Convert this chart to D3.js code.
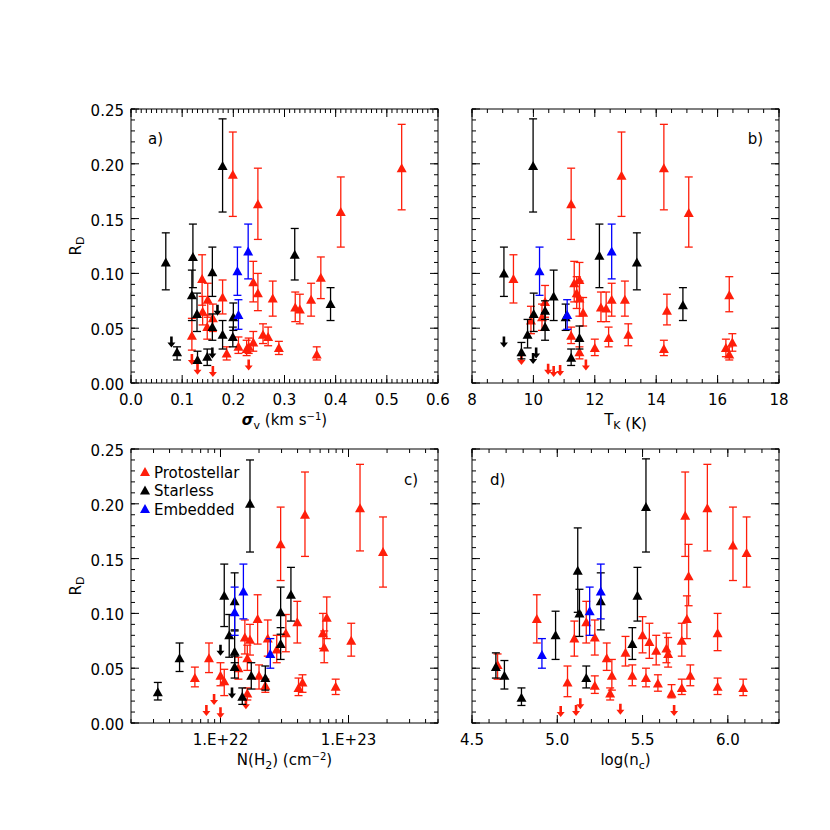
<!DOCTYPE html>
<html>
<head>
<meta charset="utf-8">
<script src="https://cdn.jsdelivr.net/npm/d3@7"></script>
<style>
    body { margin: 0; background: #fff; }
    text { font-family: "DejaVu Sans", sans-serif; font-size: 15px; }
</style>
</head>
<body>
<div id="chart"></div>
<script>
// points are [x, R_D, upper error end, lower error end]; limits are [x, R_D]

// a) sigma_v
var sigRed = [[.199,.190,.229,.152],[.248,.163,.196,.131],[.139,.095,.117,.071],[.119,.043,.059,.030],
    [.140,.065,.079,.053],[.150,.076,.091,.060],[.149,.051,.062,.040],[.160,.059,.072,.047],
    [.179,.078,.094,.063],[.187,.027,.033,.021],[.210,.033,.042,.027],[.226,.031,.039,.025],
    [.230,.033,.041,.027],[.239,.037,.047,.029],[.239,.092,.111,.074],[.248,.082,.100,.066],
    [.258,.044,.054,.036],[.268,.042,.051,.034],[.277,.077,.093,.061],[.289,.032,.038,.026],
    [.321,.069,.083,.056],[.330,.067,.081,.054],[.352,.076,.091,.061],[.371,.096,.115,.077],
    [.363,.026,.033,.021],[.410,.156,.188,.124],[.529,.196,.236,.158]];
var sigBlack = [[.068,.110,.137,.085],[.121,.115,.145,.087],[.119,.080,.103,.057],[.129,.063,.082,.047],
    [.159,.101,.124,.079],[.159,.051,.063,.039],[.179,.198,.241,.156],[.179,.044,.057,.031],
    [.200,.060,.073,.048],[.199,.042,.051,.033],[.090,.028,.033,.021],[.130,.021,.029,.018],
    [.149,.024,.031,.016],[.320,.117,.141,.094],[.390,.072,.087,.057]];
var sigBlue = [[.208,.102,.124,.080],[.210,.062,.076,.049],[.229,.120,.145,.095]];
var sigRedLim = [[.119,.021],[.130,.012],[.160,.010],[.230,.016]];
var sigBlackLim = [[.079,.037],[.159,.027],[.169,.066]];

// b) T_K
var tkRed = [[9.35,.095,.117,.073],[11.23,.163,.196,.131],[9.92,.057,.070,.045],[10.38,.074,.089,.060],
    [10.28,.060,.072,.048],[11.33,.091,.111,.074],[11.41,.082,.097,.068],[11.5,.077,.093,.061],
    [11.62,.064,.078,.052],[11.5,.094,.110,.078],[11.23,.043,.051,.036],[11.5,.028,.033,.022],
    [12.0,.032,.040,.025],[12.2,.069,.083,.056],[12.55,.076,.091,.061],[12.37,.068,.083,.056],
    [12.45,.041,.051,.033],[12.87,.189,.229,.152],[12.98,.076,.093,.061],[13.09,.044,.054,.034],
    [14.25,.196,.236,.158],[14.35,.066,.081,.053],[14.25,.031,.039,.025],[15.06,.155,.188,.124],
    [16.38,.080,.097,.065],[16.27,.032,.040,.024],[16.38,.026,.033,.021],[16.48,.037,.045,.029]];
var tkBlack = [[9.04,.100,.124,.079],[9.99,.198,.241,.156],[10.01,.063,.082,.047],[9.81,.044,.058,.032],
    [9.61,.028,.037,.022],[10.38,.066,.075,.058],[10.38,.051,.064,.039],[10.66,.079,.103,.057],
    [11.05,.060,.072,.048],[11.23,.023,.031,.016],[11.5,.041,.052,.031],[12.15,.116,.145,.087],
    [13.37,.110,.137,.085],[14.87,.071,.087,.057]];
var tkBlue = [[10.2,.102,.124,.080],[11.1,.062,.076,.049],[12.55,.120,.145,.095]];
var tkRedLim = [[9.61,.021],[10.48,.012],[10.66,.010],[10.87,.011],[11.71,.016]];
var tkBlackLim = [[9.04,.037],[9.99,.022],[10.09,.027]];

// c) N(H2)
var nhRed = [[6.31e21,.041,.051,.033],[8.13e21,.059,.073,.046],[1.0e22,.043,.055,.034],[1.07e22,.038,.049,.025],
    [1.38e22,.050,.060,.040],[1.55e22,.078,.094,.063],[1.70e22,.076,.090,.062],[1.62e22,.059,.071,.048],
    [1.62e22,.027,.032,.021],[1.95e22,.095,.117,.072],[2.0e22,.043,.053,.031],[2.24e22,.034,.040,.028],
    [2.34e22,.077,.094,.061],[2.95e22,.163,.197,.130],[2.75e22,.067,.080,.055],[3.24e22,.082,.099,.065],
    [3.98e22,.092,.111,.073],[4.57e22,.190,.229,.152],[6.31e22,.082,.100,.068],[6.76e22,.096,.115,.077],
    [6.46e22,.069,.084,.055],[4.07e22,.032,.041,.025],[4.37e22,.037,.044,.028],[7.94e22,.033,.040,.026],
    [1.05e23,.075,.091,.061],[1.23e23,.196,.236,.157],[1.86e23,.156,.188,.124]];
var nhBlack = [[3.24e21,.028,.037,.021],[4.79e21,.059,.073,.047],[1.07e22,.116,.145,.088],[1.17e22,.080,.099,.060],
    [1.29e22,.111,.137,.085],[1.29e22,.065,.084,.055],[1.29e22,.051,.061,.041],[1.48e22,.024,.032,.017],
    [1.70e22,.200,.240,.156],[1.74e22,.043,.055,.031],[2.24e22,.041,.052,.030],[2.95e22,.101,.124,.081],
    [2.95e22,.072,.087,.058],[3.55e22,.117,.142,.093]];
var nhBlue = [[1.29e22,.101,.124,.080],[1.51e22,.120,.145,.095],[2.45e22,.063,.077,.050]];
var nhRedLim = [[7.76e21,.011],[8.91e21,.021],[1.0e22,.009],[1.58e22,.017]];
var nhBlackLim = [[1.0e22,.066],[1.23e22,.027]];

// d) log(n_c)
var ncRed = [[4.65,.053,.063,.040],[4.88,.095,.117,.073],[5.06,.037,.052,.024],[5.10,.077,.093,.061],
    [5.17,.092,.111,.073],[5.22,.078,.094,.062],[5.22,.034,.043,.027],[5.29,.059,.073,.048],
    [5.32,.043,.058,.030],[5.31,.027,.032,.021],[5.40,.064,.079,.052],[5.44,.043,.053,.034],
    [5.50,.080,.097,.064],[5.52,.041,.050,.033],[5.54,.074,.091,.059],[5.58,.066,.080,.053],
    [5.59,.036,.044,.029],[5.64,.068,.082,.055],[5.65,.063,.078,.051],[5.67,.027,.035,.023],
    [5.73,.032,.040,.026],[5.73,.075,.091,.061],[5.75,.189,.229,.152],[5.76,.095,.116,.077],
    [5.77,.134,.163,.107],[5.78,.043,.053,.034],[5.88,.196,.236,.157],[5.94,.082,.100,.066],
    [5.94,.033,.041,.026],[6.03,.162,.197,.130],[6.09,.032,.040,.025],[6.11,.155,.188,.124]];
var ncBlack = [[4.64,.051,.064,.041],[4.69,.043,.057,.031],[4.79,.023,.032,.016],[4.99,.080,.102,.058],
    [5.12,.139,.178,.101],[5.13,.100,.122,.079],[5.17,.041,.052,.032],[5.255,.111,.137,.085],
    [5.52,.197,.241,.156],[5.47,.116,.142,.093],[5.44,.072,.087,.058]];
var ncBlue = [[4.91,.062,.077,.050],[5.19,.102,.124,.080],[5.255,.120,.145,.095]];
var ncRedLim = [[5.02,.010],[5.11,.011],[5.135,.017],[5.37,.012],[5.685,.011]];
var ncBlackLim = [];

var rdTicks = [0, 0.05, 0.10, 0.15, 0.20, 0.25];
var rdTickLabels = ['0.00', '0.05', '0.10', '0.15', '0.20', '0.25'];
var sigTicks = [0, 0.1, 0.2, 0.3, 0.4, 0.5, 0.6];
var sigTickLabels = ['0.0', '0.1', '0.2', '0.3', '0.4', '0.5', '0.6'];
var tkTicks = [8, 10, 12, 14, 16, 18];
var tkTickLabels = ['8', '10', '12', '14', '16', '18'];
var nhTicks = [1e22, 1e23];
var nhTickLabels = ['1.E+22', '1.E+23'];
var ncTicks = [4.5, 5.0, 5.5, 6.0];
var ncTickLabels = ['4.5', '5.0', '5.5', '6.0'];
var legendNames = ['Protostellar', 'Starless', 'Embedded'];

var RED = '#ff1e0a', BLACK = '#000000', BLUE = '#0000ff';
var PW = 307, PH = 274;

var svg = d3.select('#chart').append('svg')
    .attr('width', 830).attr('height', 830);

function tri(cx, cy) {
    return 'M' + (cx - 5) + ',' + (cy + 4) + 'L' + (cx + 5) + ',' + (cy + 4) + 'L' + cx + ',' + (cy - 5) + 'Z';
}

function arrowDown(cx, cy) {
    return 'M' + (cx - 1.3) + ',' + (cy - 6) + 'L' + (cx + 1.3) + ',' + (cy - 6) + 'L' + (cx + 1.3) + ',' + cy +
        'L' + (cx + 4) + ',' + cy + 'L' + cx + ',' + (cy + 5) + 'L' + (cx - 4) + ',' + cy +
        'L' + (cx - 1.3) + ',' + cy + 'Z';
}

function panel(p) {
    var g = svg.append('g').attr('transform', 'translate(' + p.left + ',' + p.top + ')');
    var x = p.x.range([0, PW]);
    var y = d3.scaleLinear().domain([0, 0.25]).range([PH, 0]);

    // ticks on all four sides
    var tk = g.append('g').attr('stroke', '#000').attr('stroke-width', 1);
    p.minor.forEach(function (v) {
        var px = x(v);
        tk.append('line').attr('x1', px).attr('x2', px).attr('y1', PH).attr('y2', PH - 4);
        tk.append('line').attr('x1', px).attr('x2', px).attr('y1', 0).attr('y2', 4);
    });
    p.ticks.forEach(function (v) {
        var px = x(v);
        tk.append('line').attr('x1', px).attr('x2', px).attr('y1', PH).attr('y2', PH - 8);
        tk.append('line').attr('x1', px).attr('x2', px).attr('y1', 0).attr('y2', 8);
    });
    y.ticks(25).forEach(function (v) {
        tk.append('line').attr('x1', 0).attr('x2', 4).attr('y1', y(v)).attr('y2', y(v));
        tk.append('line').attr('x1', PW).attr('x2', PW - 4).attr('y1', y(v)).attr('y2', y(v));
    });
    rdTicks.forEach(function (v) {
        tk.append('line').attr('x1', 0).attr('x2', 8).attr('y1', y(v)).attr('y2', y(v));
        tk.append('line').attr('x1', PW).attr('x2', PW - 8).attr('y1', y(v)).attr('y2', y(v));
    });
    g.append('rect').attr('width', PW).attr('height', PH)
        .attr('fill', 'none').attr('stroke', '#000').attr('stroke-width', 1);

    g.selectAll('text.xl').data(p.ticks).enter().append('text')
        .attr('x', function (d) { return x(d); })
        .attr('y', PH + 22)
        .attr('text-anchor', 'middle')
        .text(function (d, i) { return p.labels[i]; });

    if (p.yLabels) {
        g.selectAll('text.yl').data(rdTicks).enter().append('text')
            .attr('x', -7)
            .attr('y', function (d) { return y(d) + 7; })
            .attr('text-anchor', 'end')
            .text(function (d, i) { return rdTickLabels[i]; });
        var rl = g.append('text')
            .attr('transform', 'translate(-50,' + (PH / 2) + ') rotate(-90)')
            .attr('text-anchor', 'middle');
        rl.append('tspan').text('R');
        rl.append('tspan').attr('font-size', 11).attr('dy', 3).text('D');
    }

    var t = g.append('text').attr('x', PW / 2).attr('y', PH + 42).attr('text-anchor', 'middle');
    p.title(t);

    g.append('text')
        .attr('x', p.tag[0] < 0 ? PW + p.tag[0] : p.tag[0])
        .attr('y', p.tag[1])
        .attr('text-anchor', p.tag[0] < 0 ? 'end' : 'start')
        .text(p.tagText);

    // data
    p.series.forEach(function (s) {
        var sg = g.append('g');
        s.data.forEach(function (d) {
            var px = x(d[0]);
            sg.append('line').attr('x1', px).attr('x2', px).attr('y1', y(d[2])).attr('y2', y(d[3]))
                .attr('stroke', s.color).attr('stroke-width', 1.3);
            [d[2], d[3]].forEach(function (e) {
                sg.append('line').attr('x1', px - 4).attr('x2', px + 4).attr('y1', y(e)).attr('y2', y(e))
                    .attr('stroke', s.color).attr('stroke-width', 1.3);
            });
        });
        s.data.forEach(function (d) {
            sg.append('path').attr('d', tri(x(d[0]), y(d[1]))).attr('fill', s.color);
        });
        s.lim.forEach(function (d) {
            sg.append('path').attr('d', arrowDown(x(d[0]), y(d[1]))).attr('fill', s.color);
        });
    });

    return g;
}

function sub(t, base, s) {
    t.append('tspan').text(base);
    t.append('tspan').attr('font-size', 11).attr('dy', 4).text(s);
    t.append('tspan').attr('dy', -4).text('');
}

function sup(t, s) {
    t.append('tspan').attr('font-size', 10).attr('dy', -5).text(s);
    t.append('tspan').attr('dy', 5).text(')');
}

panel({
    left: 131, top: 109,
    x: d3.scaleLinear().domain([0, 0.6]),
    ticks: sigTicks, labels: sigTickLabels,
    minor: d3.scaleLinear().domain([0, 0.6]).ticks(60),
    yLabels: true,
    tag: [17, 35], tagText: 'a)',
    title: function (t) {
        t.append('tspan').attr('font-style', 'italic').attr('font-weight', 'bold').text('\u03c3');
        t.append('tspan').attr('font-size', 11).attr('dy', 4).text('v');
        t.append('tspan').attr('dy', -4).text(' (km s');
        sup(t, '\u22121');
    },
    series: [{data: sigRed, lim: sigRedLim, color: RED},
        {data: sigBlack, lim: sigBlackLim, color: BLACK},
        {data: sigBlue, lim: [], color: BLUE}]
});

panel({
    left: 472, top: 109,
    x: d3.scaleLinear().domain([8, 18]),
    ticks: tkTicks, labels: tkTickLabels,
    minor: d3.scaleLinear().domain([8, 18]).ticks(20),
    yLabels: false,
    tag: [-16, 35], tagText: 'b)',
    title: function (t) {
        sub(t, 'T', 'K');
        t.append('tspan').text(' (K)');
    },
    series: [{data: tkRed, lim: tkRedLim, color: RED},
        {data: tkBlack, lim: tkBlackLim, color: BLACK},
        {data: tkBlue, lim: [], color: BLUE}]
});

var gc = panel({
    left: 131, top: 449,
    x: d3.scaleLog().domain([2e21, 5e23]),
    ticks: nhTicks, labels: nhTickLabels,
    minor: d3.scaleLog().domain([2e21, 5e23]).ticks(),
    yLabels: true,
    tag: [-20, 36], tagText: 'c)',
    title: function (t) {
        t.append('tspan').text('N(H');
        t.append('tspan').attr('font-size', 11).attr('dy', 4).text('2');
        t.append('tspan').attr('dy', -4).text(') (cm');
        sup(t, '\u22122');
    },
    series: [{data: nhRed, lim: nhRedLim, color: RED},
        {data: nhBlack, lim: nhBlackLim, color: BLACK},
        {data: nhBlue, lim: [], color: BLUE}]
});

panel({
    left: 472, top: 449,
    x: d3.scaleLinear().domain([4.5, 6.3]),
    ticks: ncTicks, labels: ncTickLabels,
    minor: d3.scaleLinear().domain([4.5, 6.3]).ticks(18),
    yLabels: false,
    tag: [18, 36], tagText: 'd)',
    title: function (t) {
        t.append('tspan').text('log(n');
        t.append('tspan').attr('font-size', 11).attr('dy', 4).text('c');
        t.append('tspan').attr('dy', -4).text(')');
    },
    series: [{data: ncRed, lim: ncRedLim, color: RED},
        {data: ncBlack, lim: ncBlackLim, color: BLACK},
        {data: ncBlue, lim: [], color: BLUE}]
});

// legend in panel c
var legColors = [RED, BLACK, BLUE];
var leg = gc.append('g').selectAll('g').data(legendNames).enter().append('g')
    .attr('transform', function (d, i) { return 'translate(14,' + (23 + i * 18.5) + ')'; });
leg.append('path').attr('d', tri(0, 0)).attr('fill', function (d, i) { return legColors[i]; });
leg.append('text').attr('x', 9).attr('y', 5.5).text(function (d) { return d; });
</script>
</body>
</html>
